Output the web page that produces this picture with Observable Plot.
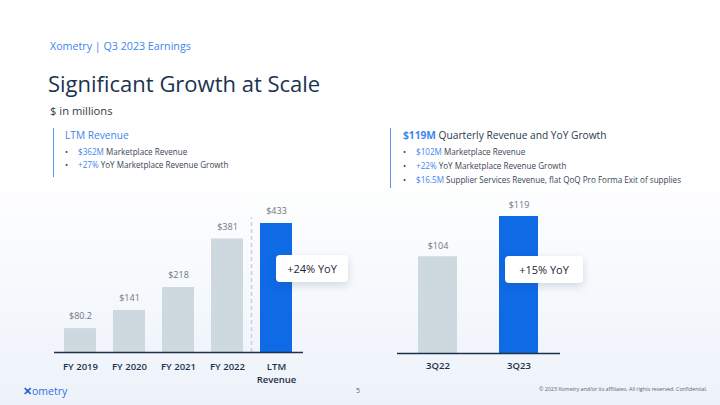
<!DOCTYPE html>
<html>
<head>
<meta charset="utf-8">
<script src="https://cdn.jsdelivr.net/npm/d3@7"></script>
<script src="https://cdn.jsdelivr.net/npm/@observablehq/plot@0.6"></script>
<style>
  html, body { margin: 0; padding: 0; }
  body {
    width: 720px; height: 405px; overflow: hidden; position: relative;
    font-family: "Open Sans", "Noto Sans", sans-serif;
    background: linear-gradient(180deg, #ffffff 0%, #ffffff 42%, #edf2fa 100%);
  }
  .abs { position: absolute; white-space: nowrap; }
  .kicker { left: 50px; top: 39px; font-size: 10.7px; color: #3d86ef; }
  .title { left: 48px; top: 68px; font-size: 22px; color: #1b3350; }
  .units { left: 50px; top: 103px; font-size: 11.2px; color: #333b45; }
  .box { border-left: 1.5px solid #5a95ee; }
  .box h3 { margin: 0; font-weight: 400; font-size: 10.2px; color: #2a3a4c; line-height: 15px; }
  .box ul { margin: 2px 0 0 0; padding: 0; list-style: none; }
  .box li { font-size: 8.1px; color: #3a4654; position: relative; padding-left: 13px; }
  .box li::before { content: "•"; position: absolute; left: 0; color: #3a4654; }
  .hl { color: #3d86ef; }
  .pill {
    background: #fff; border-radius: 4px;
    box-shadow: 0 3px 8px rgba(40, 60, 100, 0.18);
    font-size: 11px; color: #1e2530; display: flex; align-items: center; justify-content: center;
  }
  .plot { position: absolute; top: 190px; }
  .foot { font-size: 6px; color: #5b6674; }
</style>
</head>
<body>
<script>
// ---- data ----
const ltmCategories = ["FY 2019", "FY 2020", "FY 2021", "FY 2022", "LTM Revenue"];
const ltmValues = [80.2, 141, 218, 381, 433];
const ltmTickLabels = ["FY 2019", "FY 2020", "FY 2021", "FY 2022", "LTM\nRevenue"];
const ltmValueLabels = ["$80.2", "$141", "$218", "$381", "$433"];
const ltmHighlight = [false, false, false, false, true];

const qCategories = ["3Q22", "3Q23"];
const qValues = [104, 119];
const qValueLabels = ["$104", "$119"];
const qHighlight = [false, true];

const ltmGrowth = "+24% YoY";
const qGrowth = "+15% YoY";

const ltmBullets = [["$362M", " Marketplace Revenue"], ["+27%", " YoY Marketplace Revenue Growth"]];
const qBullets = [["$102M", " Marketplace Revenue"], ["+22%", " YoY Marketplace Revenue Growth"], ["$16.5M", " Supplier Services Revenue, flat QoQ Pro Forma Exit of supplies"]];

// ---- colours ----
const GRAY = "#cdd8df";
const BLUE = "#0f6ae6";
const NAVY = "#1d3248";
const LABEL = "#6b7682";

// ---- header ----
function add(cls, html, style) {
  const d = document.createElement("div");
  d.className = "abs " + cls;
  d.innerHTML = html;
  if (style) Object.assign(d.style, style);
  document.body.appendChild(d);
  return d;
}
add("kicker", "Xometry | Q3 2023 Earnings");
add("title", "Significant Growth at Scale");
add("units", "$ in millions");

function bullets(list) {
  return "<ul>" + list.map(([a, b]) => `<li><span class="hl">${a}</span>${b}</li>`).join("") + "</ul>";
}
add("box", `<h3><span class="hl">LTM Revenue</span></h3>` + bullets(ltmBullets),
  {left: "53px", top: "128px", paddingLeft: "11px", height: "49px", lineHeight: "13.4px"});
add("box", `<h3><span class="hl" style="font-weight:700">$119M</span> Quarterly Revenue and YoY Growth</h3>` + bullets(qBullets),
  {left: "390px", top: "128px", paddingLeft: "12px", height: "60px", lineHeight: "14px"});

// ---- left chart ----
const ltmData = ltmCategories.map((c, i) => ({cat: c, value: ltmValues[i], label: ltmValueLabels[i], tick: ltmTickLabels[i], hi: ltmHighlight[i]}));
const xLeft = {type: "band", domain: ltmCategories, paddingInner: 0.34, paddingOuter: 0.16};
const leftW = 360, leftH = 200;
const xs = Plot.scale({x: {...xLeft, range: [54, leftW - 57]}});
const left = Plot.plot({
  width: leftW, height: leftH,
  marginLeft: 54, marginRight: 57, marginTop: 33, marginBottom: 38,
  style: {background: "transparent", fontFamily: "Open Sans, sans-serif", overflow: "visible"},
  x: {...xLeft, axis: null},
  y: {domain: [0, 433], axis: null},
  marks: [
    Plot.ruleX(["LTM Revenue"], {y1: 0, y2: 452, dx: -xs.step / 2, stroke: "#c9d0d8", strokeWidth: 1.5, strokeDasharray: "4,3"}),
    Plot.barY(ltmData, {x: "cat", y: "value", fill: d => d.hi ? BLUE : GRAY}),
    Plot.text(ltmData, {x: "cat", y: "value", text: "label", dy: -12, fill: LABEL, fontSize: 9}),
    Plot.text(ltmData, {x: "cat", y: 0, text: "tick", lineAnchor: "top", dy: 9, lineHeight: 1.3, fill: NAVY, fontSize: 9.5, fontWeight: 600}),
    Plot.ruleY([0], {stroke: NAVY, strokeWidth: 1.5})
  ]
});
left.classList.add("plot");
left.style.left = "0px";
document.body.appendChild(left);

// ---- right chart ----
const qFloor = 68;
const qData = qCategories.map((c, i) => ({cat: c, value: qValues[i], label: qValueLabels[i], hi: qHighlight[i]}));
const right = Plot.plot({
  width: 360, height: 200,
  marginLeft: 37, marginRight: 160, marginTop: 26, marginBottom: 37,
  style: {background: "transparent", fontFamily: "Open Sans, sans-serif", overflow: "visible"},
  x: {type: "band", domain: qCategories, paddingInner: 0.516, paddingOuter: 0.262, axis: null},
  y: {domain: [qFloor, 119], axis: null},
  marks: [
    Plot.barY(qData, {x: "cat", y1: qFloor, y2: "value", fill: d => d.hi ? BLUE : GRAY}),
    Plot.text(qData, {x: "cat", y: "value", text: "label", dy: -11, fill: LABEL, fontSize: 9}),
    Plot.text(qData, {x: "cat", y: qFloor, text: "cat", lineAnchor: "top", dy: 9, fill: NAVY, fontSize: 9.5, fontWeight: 600}),
    Plot.ruleY([qFloor], {stroke: NAVY, strokeWidth: 1.5})
  ]
});
right.classList.add("plot");
right.style.left = "360px";
document.body.appendChild(right);

// ---- growth call-outs ----
add("pill", ltmGrowth, {left: "276px", top: "255px", width: "72px", height: "27px"});
add("pill", qGrowth, {left: "505px", top: "256px", width: "78px", height: "27px"});

// ---- footer ----
add("foot", `<span style="color:#1f5fd6;font-weight:800;font-size:11px">✕</span><span style="color:#2f6fe0;font-size:10.5px">ometry</span>`, {left: "23px", top: "383px"});
add("foot", "5", {left: "356px", top: "386px", fontSize: "7px"});
add("foot", "© 2023 Xometry and/or its affiliates. All rights reserved. Confidential.", {left: "539px", top: "385px", fontSize: "5.4px", letterSpacing: "-0.05px"});
</script>
</body>
</html>
